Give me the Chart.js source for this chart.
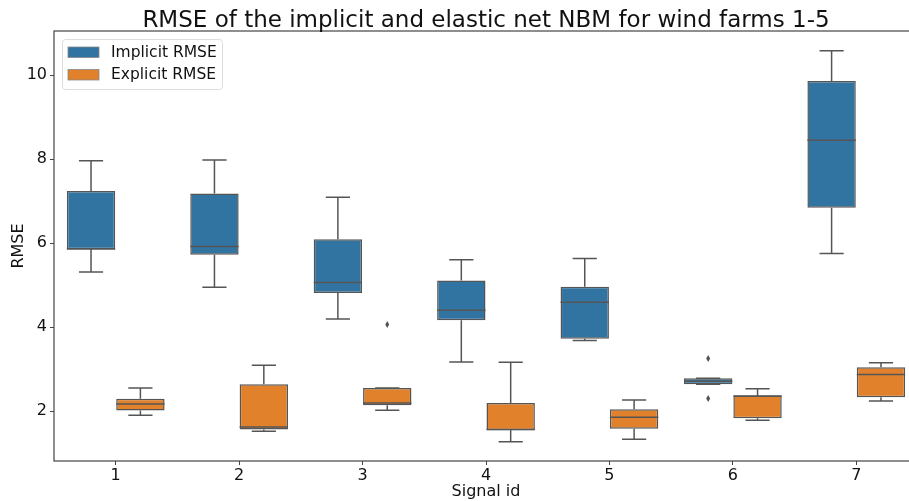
<!DOCTYPE html>
<html><head><meta charset="utf-8">
<script src="https://cdn.jsdelivr.net/npm/chart.js@4.4.1/dist/chart.umd.min.js"></script>
<style>
html,body{margin:0;padding:0;background:#fff;overflow:hidden;width:909px;height:501px;}
#wrap{position:absolute;left:0;top:0;width:920px;height:501px;}
</style></head><body>
<div id="wrap"><canvas id="c" width="920" height="501"></canvas></div>
<script>
const categories = ['1','2','3','4','5','6','7'];
const tickLabels = [2,4,6,8,10];
const seriesNames = ['Implicit RMSE','Explicit RMSE'];
const implicitQ1  = [5.85,5.72,4.81,4.16,3.72,2.64,6.84];
const implicitMed = [5.86,5.92,5.06,4.40,4.59,2.71,8.45];
const implicitQ3  = [7.24,7.18,6.09,5.11,4.96,2.78,9.86];
const implicitLow = [5.31,4.95,4.19,3.17,3.68,2.64,5.75];
const implicitHigh= [7.96,7.98,7.09,5.60,5.63,2.78,10.58];
const implicitOut = [[],[],[],[],[],[3.25,2.30],[]];
const explicitQ1  = [2.01,1.56,2.14,1.54,1.58,1.83,2.33];
const explicitMed = [2.17,1.62,2.19,1.56,1.85,2.36,2.87];
const explicitQ3  = [2.29,2.64,2.55,2.19,2.04,2.37,3.04];
const explicitLow = [1.90,1.52,2.02,1.27,1.33,1.78,2.24];
const explicitHigh= [2.55,3.09,2.55,3.16,2.26,2.53,3.15];
const explicitOut = [[],[],[4.06],[],[],[],[]];

const BLUE='#3274A1', ORANGE='#E1812C', LINE='#555555', FONT='DejaVu Sans', TXT='#111';
const stats = [
  {q1:implicitQ1,med:implicitMed,q3:implicitQ3,lo:implicitLow,hi:implicitHigh,out:implicitOut},
  {q1:explicitQ1,med:explicitMed,q3:explicitQ3,lo:explicitLow,hi:explicitHigh,out:explicitOut}
];

const boxPlugin = {
  id:'boxparts',
  afterDatasetsDraw(chart){
    const ctx=chart.ctx, y=chart.scales.y;
    ctx.save();
    ctx.strokeStyle=LINE; ctx.fillStyle=LINE; ctx.lineWidth=1.5;
    stats.forEach((s,di)=>{
      const meta=chart.getDatasetMeta(di);
      meta.data.forEach((bar,i)=>{
        const cx=bar.x, w=bar.width, half=w/4;
        const pq1=y.getPixelForValue(s.q1[i]), pq3=y.getPixelForValue(s.q3[i]);
        const plo=y.getPixelForValue(s.lo[i]), phi=y.getPixelForValue(s.hi[i]);
        const pm=y.getPixelForValue(s.med[i]);
        ctx.beginPath();
        ctx.moveTo(cx,pq3); ctx.lineTo(cx,phi);
        ctx.moveTo(cx-half,phi); ctx.lineTo(cx+half,phi);
        ctx.moveTo(cx,pq1); ctx.lineTo(cx,plo);
        ctx.moveTo(cx-half,plo); ctx.lineTo(cx+half,plo);
        ctx.moveTo(cx-w/2,pm); ctx.lineTo(cx+w/2,pm);
        ctx.stroke();
        s.out[i].forEach(v=>{
          const py=y.getPixelForValue(v);
          ctx.beginPath();
          ctx.moveTo(cx,py-3.5); ctx.lineTo(cx+2,py); ctx.lineTo(cx,py+3.5); ctx.lineTo(cx-2,py); ctx.closePath();
          ctx.fill();
        });
      });
    });
    ctx.restore();
  },
  afterDraw(chart){
    const ctx=chart.ctx, a=chart.chartArea;
    ctx.save();
    ctx.strokeStyle='#444'; ctx.lineWidth=1.2;
    ctx.strokeRect(a.left,a.top,a.right-a.left,a.bottom-a.top);
    ctx.fillStyle=TXT; ctx.font='23px "'+FONT+'"';
    ctx.textAlign='center'; ctx.textBaseline='alphabetic';
    ctx.fillText('RMSE of the implicit and elastic net NBM for wind farms 1-5',(a.left+a.right)/2,27);
    const lx=62, ly=39, lw=160, lh=50;
    ctx.fillStyle='rgba(255,255,255,0.8)'; ctx.strokeStyle='#dddddd'; ctx.lineWidth=1;
    ctx.beginPath(); ctx.roundRect(lx+0.5,ly+0.5,lw,lh,3); ctx.fill(); ctx.stroke();
    [BLUE,ORANGE].forEach((c,k)=>{
      const py=ly+8+k*22.5;
      ctx.fillStyle=c; ctx.fillRect(68,py,31,10.5);
      ctx.strokeStyle='#888'; ctx.lineWidth=0.8; ctx.strokeRect(68,py,31,10.5);
      ctx.fillStyle=TXT; ctx.font='15.5px "'+FONT+'"'; ctx.textAlign='left'; ctx.textBaseline='middle';
      ctx.fillText(seriesNames[k],111,py+5.5);
    });
    ctx.restore();
  }
};

new Chart(document.getElementById('c'),{
  type:'bar',
  data:{labels:categories,datasets:[
    {label:seriesNames[0],data:implicitQ1.map((v,i)=>[v,implicitQ3[i]]),backgroundColor:BLUE,borderColor:LINE,borderWidth:1.5,borderSkipped:false,categoryPercentage:0.8,barPercentage:0.98},
    {label:seriesNames[1],data:explicitQ1.map((v,i)=>[v,explicitQ3[i]]),backgroundColor:ORANGE,borderColor:LINE,borderWidth:1.5,borderSkipped:false,categoryPercentage:0.8,barPercentage:0.98}
  ]},
  options:{
    responsive:false,animation:false,
    layout:{padding:{top:31,right:2,left:0,bottom:0}},
    plugins:{legend:{display:false},title:{display:false},tooltip:{enabled:false}},
    scales:{
      x:{grid:{display:true,offset:false,drawOnChartArea:false,drawTicks:true,tickLength:4,color:'#444'},border:{display:false},
         ticks:{color:TXT,font:{family:FONT,size:16},padding:1,maxRotation:0},
         title:{display:true,text:'Signal id',color:TXT,font:{family:FONT,size:16},padding:{top:0,bottom:0}},
         afterFit(s){s.height=40;}},
      y:{min:0.81,max:11.05,grid:{display:true,drawOnChartArea:false,drawTicks:true,tickLength:4,color:'#444'},border:{display:false},
         afterBuildTicks(s){s.ticks=tickLabels.map(v=>({value:v}));},
         ticks:{color:TXT,font:{family:FONT,size:16},padding:3},
         title:{display:true,text:'RMSE',color:TXT,font:{family:FONT,size:16},padding:{top:9,bottom:0}},
         afterFit(s){s.width=54;}}
    }
  },
  plugins:[boxPlugin]
});
</script></body></html>
